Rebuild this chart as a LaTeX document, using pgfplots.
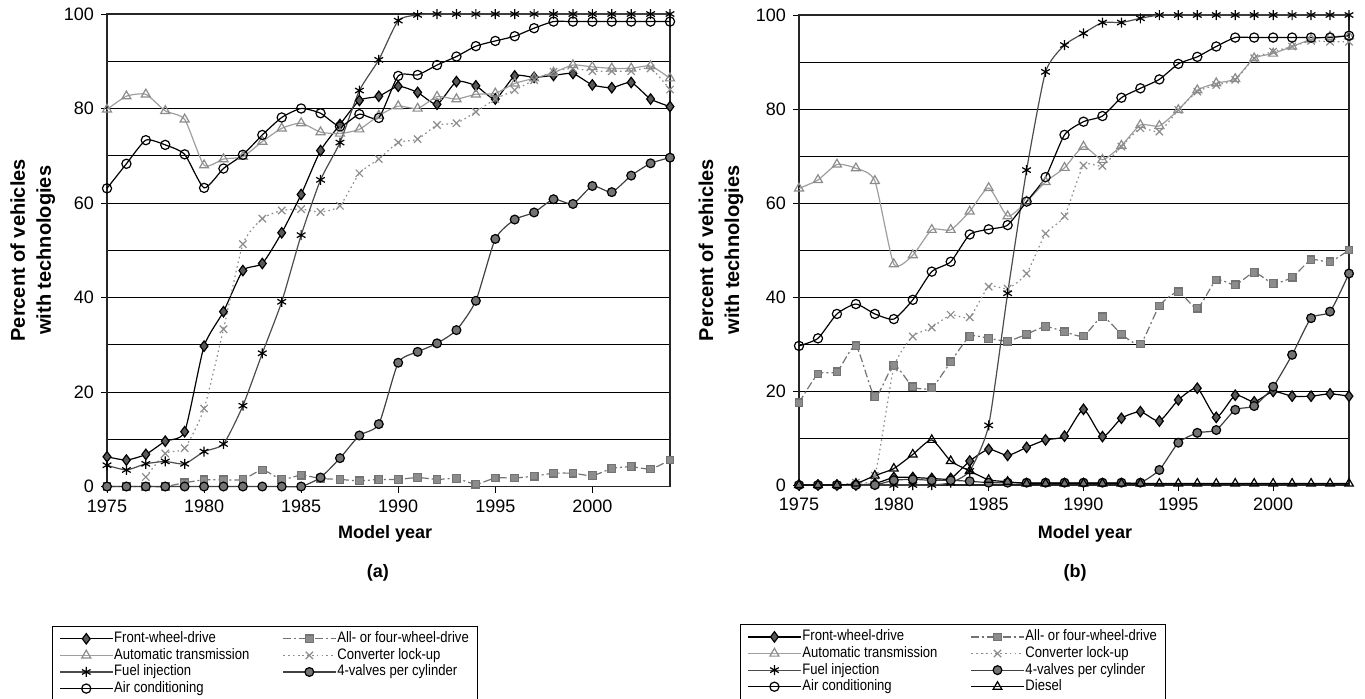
\documentclass[border=0pt]{standalone}
\usepackage{pgfplots}
\pgfplotsset{compat=1.18}
\usepackage{fontspec}
\setmainfont{Liberation Sans}
\newfontfamily\narrow[FakeStretch=0.86]{Liberation Sans}

\pgfplotsset{
  panel/.style={
    scale only axis,
    xmin=1975, xmax=2004, ymin=0, ymax=100,
    xtick={1975,1980,...,2000},
    ytick={0,20,...,100},
    minor ytick={10,30,...,90},
    ymajorgrids, yminorgrids,
    grid style={black, line width=0.5pt},
    minor grid style={black, line width=0.5pt},
    axis line style={black!85, line width=0.6pt},
    tick align=outside, tick pos=left,
    major tick length=3pt, minor tick length=0pt,
    tick style={black, line width=0.5pt},
    xticklabel style={/pgf/number format/1000 sep={}},
    /pgf/number format/assume math mode=true,
    ticklabel style={font=\fontsize{9}{10}\selectfont},
    clip=false,
    legend columns=2,
    legend cell align=left,
    legend style={draw=black, line width=0.5pt, fill=white,
      font=\narrow\fontsize{7.6}{8}\selectfont, inner xsep=3.5pt, inner ysep=2pt, row sep=0pt,
      nodes={inner sep=0.6pt, text height=5.5pt, text depth=1.6pt},
      /tikz/every even column/.append style={column sep=16pt}},
    legend image code/.code={\draw[mark repeat=2,mark phase=2] plot coordinates {(0cm,0cm) (0.46cm,0cm) (0.92cm,0cm)};},
    every axis plot/.append style={line width=0.6pt, smooth, tension=0.35},
    ylabel={Percent of vehicles\\with technologies},
    xlabel={Model year},
  },
  fwd/.style={black, mark=diamond*, mark size=2.6pt, mark options={solid, fill=black!65, draw=black}},
  awd/.style={black!55, dash pattern=on 4pt off 1.5pt on 1pt off 1.5pt, mark=square*, mark size=1.9pt, mark options={solid, fill=black!45, draw=black!55}},
  auto/.style={black!38, mark=triangle, mark size=2.6pt, mark options={solid, fill=white, draw=black!45}},
  conv/.style={black!45, dash pattern=on 0.8pt off 1.6pt, mark=x, mark size=2.6pt, mark options={solid, draw=black!45}},
  fuel/.style={black!70, mark=asterisk, mark size=2.5pt, mark options={solid, draw=black}},
  valve/.style={black!75, mark=*, mark size=2.2pt, mark options={solid, fill=black!55, draw=black}},
  ac/.style={black, mark=o, mark size=2.3pt, mark options={solid, fill=white, draw=black}},
  diesel/.style={black, mark=triangle, mark size=2.5pt, mark options={solid, fill=white, draw=black}},
}

\begin{document}
\begin{tikzpicture}
\path[use as bounding box] (0,0) rectangle (682.5pt,349pt);

% ---------------- Panel (a) ----------------
\begin{axis}[panel, at={(53.5pt,105.75pt)}, anchor=south west,
  width=281.5pt, height=236.25pt,
  ylabel style={align=center, font=\bfseries\fontsize{10}{13}\selectfont, at={(axis description cs:-0.132,0.5)}, anchor=center},
  xlabel style={font=\bfseries\fontsize{9}{10}\selectfont, at={(axis description cs:0.494,-0.1005)}, anchor=center},
  legend style={at={(rel axis cs:-0.0977,-0.2952)}, anchor=north west},
]
\addplot[fwd] table {
1975 6.3
1976 5.6
1977 6.8
1978 9.6
1979 11.6
1980 29.7
1981 37.0
1982 45.7
1983 47.2
1984 53.7
1985 61.8
1986 71.1
1987 76.6
1988 81.7
1989 82.6
1990 84.7
1991 83.4
1992 80.9
1993 85.7
1994 84.8
1995 82.0
1996 86.9
1997 86.6
1998 87.0
1999 87.4
2000 85.0
2001 84.4
2002 85.5
2003 82.0
2004 80.4
};
\addlegendentry{Front-wheel-drive}
\addplot[awd] table {
1975 0
1976 0
1977 0
1978 0
1979 0.8
1980 1.4
1981 1.4
1982 1.5
1983 3.5
1984 1.5
1985 2.4
1986 1.7
1987 1.5
1988 1.2
1989 1.5
1990 1.5
1991 1.9
1992 1.5
1993 1.7
1994 0.5
1995 1.8
1996 1.8
1997 2.2
1998 2.8
1999 2.8
2000 2.3
2001 3.8
2002 4.2
2003 3.7
2004 5.6
};
\addlegendentry{All- or four-wheel-drive}
\addplot[auto] table {
1975 79.8
1976 82.6
1977 83.0
1978 79.5
1979 77.7
1980 68.0
1981 69.3
1982 69.8
1983 73.0
1984 75.8
1985 76.9
1986 75.0
1987 74.7
1988 75.6
1989 78.5
1990 80.5
1991 80.0
1992 82.5
1993 82.0
1994 83.0
1995 83.2
1996 85.3
1997 86.4
1998 87.6
1999 89.2
2000 88.8
2001 88.5
2002 88.5
2003 89.0
2004 86.4
};
\addlegendentry{Automatic transmission}
\addplot[conv] table {
1977 2.0
1978 7.0
1979 8.1
1980 16.5
1981 33.3
1982 51.3
1983 56.7
1984 58.4
1985 58.7
1986 58.1
1987 59.4
1988 66.3
1989 69.3
1990 72.8
1991 73.5
1992 76.5
1993 76.9
1994 79.3
1995 82.0
1996 83.9
1997 86.0
1998 87.8
1999 88.5
2000 87.9
2001 87.9
2002 87.9
2003 88.5
2004 84.0
};
\addlegendentry{Converter lock-up}
\addplot[fuel] table {
1975 4.5
1976 3.5
1977 4.8
1978 5.3
1979 4.8
1980 7.4
1981 9.0
1982 17.1
1983 28.2
1984 39.1
1985 53.2
1986 64.9
1987 72.8
1988 83.8
1989 90.3
1990 98.6
1991 99.8
1992 100
1993 100
1994 100
1995 100
1996 100
1997 100
1998 100
1999 100
2000 100
2001 100
2002 100
2003 100
2004 100
};
\addlegendentry{Fuel injection}
\addplot[valve] table {
1975 0
1976 0
1977 0
1978 0
1979 0
1980 0
1981 0
1982 0
1983 0
1984 0
1985 0
1986 1.9
1987 6.0
1988 10.8
1989 13.2
1990 26.2
1991 28.5
1992 30.3
1993 33.1
1994 39.3
1995 52.4
1996 56.5
1997 58.0
1998 60.8
1999 59.8
2000 63.6
2001 62.3
2002 65.8
2003 68.4
2004 69.6
};
\addlegendentry{4-valves per cylinder}
\addplot[ac] table {
1975 63.1
1976 68.3
1977 73.3
1978 72.3
1979 70.3
1980 63.2
1981 67.3
1982 70.2
1983 74.4
1984 78.1
1985 80.0
1986 79.0
1987 76.2
1988 78.8
1989 78.0
1990 86.9
1991 87.1
1992 89.2
1993 91.0
1994 93.2
1995 94.3
1996 95.3
1997 97.0
1998 98.4
1999 98.4
2000 98.4
2001 98.4
2002 98.4
2003 98.4
2004 98.4
};
\addlegendentry{Air conditioning}
\node[font=\bfseries\fontsize{9}{10}\selectfont] at (rel axis cs:0.481,-0.183) {(a)};
\end{axis}

% ---------------- Panel (b) ----------------
\begin{axis}[panel, at={(399.5pt,106.5pt)}, anchor=south west,
  width=275pt, height=235pt,
  ylabel style={align=center, font=\bfseries\fontsize{10}{13}\selectfont, at={(axis description cs:-0.1418,0.5)}, anchor=center},
  xlabel style={font=\bfseries\fontsize{9}{10}\selectfont, at={(axis description cs:0.52,-0.104)}, anchor=center},
  legend style={at={(rel axis cs:-0.107,-0.296)}, anchor=north west},
]
\addplot[fwd] table {
1975 0
1976 0
1977 0
1978 0
1979 0.3
1980 1.6
1981 1.6
1982 1.4
1983 1.4
1984 5.1
1985 7.6
1986 6.3
1987 8.0
1988 9.6
1989 10.4
1990 16.1
1991 10.3
1992 14.2
1993 15.6
1994 13.6
1995 18.1
1996 20.6
1997 14.4
1998 19.1
1999 17.7
2000 19.9
2001 18.9
2002 18.9
2003 19.4
2004 18.9
};
\addlegendentry{Front-wheel-drive}
\addplot[awd] table {
1975 17.5
1976 23.6
1977 24.1
1978 29.6
1979 18.8
1980 25.5
1981 20.9
1982 20.7
1983 26.2
1984 31.6
1985 31.2
1986 30.6
1987 32.1
1988 33.7
1989 32.6
1990 31.7
1991 35.8
1992 32.1
1993 30.0
1994 38.1
1995 41.1
1996 37.6
1997 43.6
1998 42.6
1999 45.2
2000 42.9
2001 44.2
2002 47.9
2003 47.5
2004 50.0
};
\addlegendentry{All- or four-wheel-drive}
\addplot[auto] table {
1975 63.1
1976 64.9
1977 68.2
1978 67.4
1979 64.7
1980 47.0
1981 48.9
1982 54.3
1983 54.3
1984 58.2
1985 63.2
1986 57.2
1987 60.3
1988 64.5
1989 67.5
1990 72.0
1991 69.2
1992 72.2
1993 76.6
1994 76.4
1995 79.8
1996 84.0
1997 85.5
1998 86.4
1999 90.8
2000 91.8
2001 93.3
2002 94.8
2003 95.4
2004 95.5
};
\addlegendentry{Automatic transmission}
\addplot[conv] table {
1977 0
1978 0.5
1979 2.0
1980 25.0
1981 31.6
1982 33.5
1983 36.2
1984 35.7
1985 42.2
1986 41.8
1987 45.0
1988 53.5
1989 57.2
1990 68.0
1991 67.9
1992 72.0
1993 75.9
1994 75.2
1995 79.8
1996 83.7
1997 85.1
1998 86.2
1999 90.8
2000 92.2
2001 93.3
2002 94.5
2003 94.3
2004 94.3
};
\addlegendentry{Converter lock-up}
\addplot[fuel] table {
1975 0
1976 0
1977 0
1978 0
1979 0
1980 0
1981 0
1982 0
1983 0.5
1984 3.0
1985 12.7
1986 40.8
1987 67.0
1988 87.9
1989 93.6
1990 96.1
1991 98.4
1992 98.4
1993 99.3
1994 100
1995 100
1996 100
1997 100
1998 100
1999 100
2000 100
2001 100
2002 100
2003 100
2004 100
};
\addlegendentry{Fuel injection}
\addplot[valve] table {
1975 0
1976 0
1977 0
1978 0
1979 0
1980 1.0
1981 1.2
1982 1.0
1983 1.0
1984 0.8
1985 0.5
1986 0.5
1987 0.5
1988 0.5
1989 0.5
1990 0.5
1991 0.5
1992 0.5
1993 0.5
1994 3.2
1995 9.0
1996 11.1
1997 11.7
1998 16.0
1999 16.8
2000 20.9
2001 27.7
2002 35.5
2003 36.9
2004 45.0
};
\addlegendentry{4-valves per cylinder}
\addplot[ac] table {
1975 29.6
1976 31.2
1977 36.4
1978 38.5
1979 36.4
1980 35.3
1981 39.4
1982 45.4
1983 47.5
1984 53.3
1985 54.4
1986 55.3
1987 60.3
1988 65.5
1989 74.5
1990 77.3
1991 78.5
1992 82.4
1993 84.4
1994 86.3
1995 89.6
1996 91.1
1997 93.3
1998 95.2
1999 95.2
2000 95.2
2001 95.2
2002 95.2
2003 95.2
2004 95.6
};
\addlegendentry{Air conditioning}
\addplot[diesel] table {
1975 0
1976 0
1977 0
1978 0.3
1979 2.0
1980 3.5
1981 6.5
1982 9.6
1983 5.1
1984 3.0
1985 1.1
1986 0.7
1987 0.3
1988 0.3
1989 0.3
1990 0.3
1991 0.3
1992 0.3
1993 0.3
1994 0.3
1995 0.3
1996 0.3
1997 0.3
1998 0.3
1999 0.3
2000 0.3
2001 0.3
2002 0.3
2003 0.3
2004 0.3
};
\addlegendentry{Diesel}
\node[font=\bfseries\fontsize{9}{10}\selectfont] at (rel axis cs:0.502,-0.187) {(b)};
\end{axis}
\end{tikzpicture}
\end{document}
